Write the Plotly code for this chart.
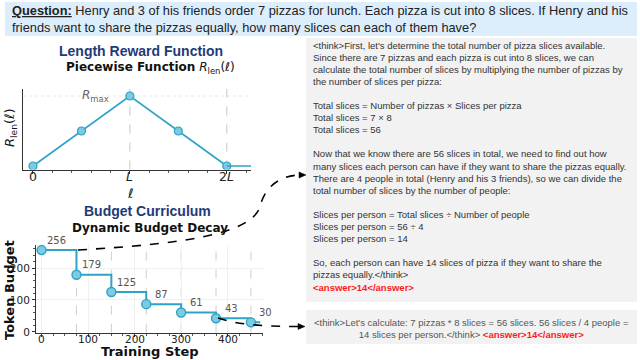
import plotly.graph_objects as go

W, H = 640, 360

# ---------------- data ----------------
ell = [0, 0.5, 1.0, 1.5, 2.0]
r_len = [0, 0.5, 1.0, 0.5, 0]
ell_tail = [2.0, 2.25]
r_tail = [0, 0]
len_tickvals = [0, 1, 2]
len_ticktext = ["0", "<i>L</i>", "2<i>L</i>"]

steps = [0, 75, 150, 225, 300, 375, 450]
budgets = [256, 179, 125, 87, 61, 43, 30]
step_end = 470
step_ticks = [0, 100, 200, 300, 400]
budget_ticks = [0, 100, 200]

question = ("<b><u>Question:</u></b> Henry and 3 of his friends order 7 pizzas for lunch. Each pizza is cut into 8 slices. If Henry and his<br>"
            "friends want to share the pizzas equally, how many slices can each of them have?")

long_lines = [
    "&lt;think&gt;First, let's determine the total number of pizza slices available.",
    "Since there are 7 pizzas and each pizza is cut into 8 slices, we can",
    "calculate the total number of slices by multiplying the number of pizzas by",
    "the number of slices per pizza:",
    "",
    "Total slices = Number of pizzas × Slices per pizza",
    "Total slices = 7 × 8",
    "Total slices = 56",
    "",
    "Now that we know there are 56 slices in total, we need to find out how",
    "many slices each person can have if they want to share the pizzas equally.",
    "There are 4 people in total (Henry and his 3 friends), so we can divide the",
    "total number of slices by the number of people:",
    "",
    "Slices per person = Total slices ÷ Number of people",
    "Slices per person = 56 ÷ 4",
    "Slices per person = 14",
    "",
    "So, each person can have 14 slices of pizza if they want to share the",
    "pizzas equally.&lt;/think&gt;",
    "<b><span style='color:#ff1a1a'>&lt;answer&gt;14&lt;/answer&gt;</span></b>",
]
short_text = ("&lt;think&gt;Let's calculate: 7 pizzas * 8 slices = 56 slices. 56 slices / 4 people =<br>"
              "14 slices per person.&lt;/think&gt; <b><span style='color:#ff1a1a'>&lt;answer&gt;14&lt;/answer&gt;</span></b>")

LINE = "#2ea3c9"
MFILL = "#7ccbe0"
NAVY = "#1f3a7a"


def px(x):
    return x / W


def py(y):
    return 1 - y / H


fig = go.Figure()

# top chart
fig.add_trace(go.Scatter(x=ell, y=r_len, mode="lines+markers", xaxis="x", yaxis="y",
                         line=dict(color=LINE, width=1.6),
                         marker=dict(size=8, color=MFILL, line=dict(color=LINE, width=1.2)),
                         showlegend=False, hoverinfo="skip"))
fig.add_trace(go.Scatter(x=ell_tail, y=r_tail, mode="lines", xaxis="x", yaxis="y",
                         line=dict(color=LINE, width=1.6), showlegend=False, hoverinfo="skip"))

# bottom chart
fig.add_trace(go.Scatter(x=steps + [step_end], y=budgets + [budgets[-1]], mode="lines",
                         line_shape="hv", xaxis="x2", yaxis="y2",
                         line=dict(color=LINE, width=2), showlegend=False, hoverinfo="skip"))
fig.add_trace(go.Scatter(x=steps, y=budgets, mode="markers", xaxis="x2", yaxis="y2",
                         marker=dict(size=9, color=MFILL, line=dict(color=LINE, width=1.4)),
                         showlegend=False, hoverinfo="skip"))

axis_common = dict(showline=True, linecolor="#333", linewidth=1, automargin=False,
                   tickcolor="#333", zeroline=False, mirror=False)
minor_common = dict(ticks="outside", ticklen=2, tickcolor="#555", showgrid=False)

fig.update_layout(
    width=W, height=H, autosize=False,
    margin=dict(l=0, r=0, t=0, b=0, pad=0),
    paper_bgcolor="white", plot_bgcolor="white",
    xaxis=dict(domain=[23.3 / W, 251 / W], range=[-0.1, 2.25], anchor="y", ticks="outside", ticklen=3,
               showticklabels=False,
               tickmode="array", tickvals=len_tickvals,
               showgrid=False,
               minor=dict(tickmode="linear", tick0=0, dtick=0.2, **minor_common),
               **axis_common),
    yaxis=dict(domain=[py(169.5), py(89)], range=[-0.05, 1.1], anchor="x", ticks="",
               showticklabels=False, showgrid=False, **axis_common),
    xaxis2=dict(domain=[36 / W, 263 / W], range=[-12, 476], anchor="y2", ticks="outside", ticklen=3,
                showticklabels=False,
                tickmode="array", tickvals=step_ticks, showgrid=True, gridcolor="#f0f0f0",
                minor=dict(tickmode="linear", tick0=0, dtick=25, **minor_common),
                **axis_common),
    yaxis2=dict(domain=[py(332.6), py(245)], range=[-2, 272], anchor="x2", ticks="outside", ticklen=3,
                tickfont=dict(family="DejaVu Sans", size=10.5, color="#222"),
                tickmode="array", tickvals=budget_ticks, showgrid=True, gridcolor="#f0f0f0",
                minor=dict(tickmode="linear", tick0=0, dtick=20, **minor_common),
                **axis_common),
)

shapes = []
# question box
shapes.append(dict(type="rect", xref="paper", yref="paper", x0=px(5), x1=px(637), y0=py(36), y1=py(2),
                   fillcolor="#dcedfc", line=dict(width=0), layer="below"))
# long answer box
shapes.append(dict(type="rect", xref="paper", yref="paper", x0=px(306), x1=px(637), y0=py(302), y1=py(38),
                   fillcolor="#f2f2f2", line=dict(width=0), layer="below"))
# short answer box
shapes.append(dict(type="rect", xref="paper", yref="paper", x0=px(306), x1=px(637), y0=py(344), y1=py(310),
                   fillcolor="#f2f2f2", line=dict(width=0), layer="below"))

# top chart guide lines
for v in [1, 2]:
    shapes.append(dict(type="line", xref="x", yref="y domain", x0=v, x1=v, y0=0, y1=1,
                       line=dict(color="#c8c8c8", width=1, dash="dash"), layer="below"))
shapes.append(dict(type="line", xref="x domain", yref="y", x0=0, x1=1, y0=1, y1=1,
                   line=dict(color="#e6e6e6", width=1, dash="dot"), layer="below"))
# bottom chart step guides
for s in steps[1:]:
    shapes.append(dict(type="line", xref="x2", yref="y2 domain", x0=s, x1=s, y0=0, y1=1,
                       line=dict(color="#cfcfcf", width=1, dash="dash"), layer="below"))


def P(x, y):
    return f"{px(x):.5f},{py(y):.5f}"


# dashed connector arrows
path1 = (f"M {P(78, 250)} C {P(180, 244)} {P(250, 235)} {P(260, 207)} "
         f"C {P(263, 192)} {P(275, 176)} {P(299, 175)}")
shapes.append(dict(type="path", xref="paper", yref="paper", path=path1,
                   line=dict(color="black", width=1.6, dash="dash")))
shapes.append(dict(type="path", xref="paper", yref="paper",
                   path=f"M {P(306, 175)} L {P(299, 172)} L {P(299, 178)} Z",
                   fillcolor="black", line=dict(color="black", width=0.5)))
path2 = f"M {P(218, 318)} C {P(235, 324)} {P(260, 326.5)} {P(298, 326.5)}"
shapes.append(dict(type="path", xref="paper", yref="paper", path=path2,
                   line=dict(color="black", width=1.6, dash="dash")))
shapes.append(dict(type="path", xref="paper", yref="paper",
                   path=f"M {P(305, 326.5)} L {P(298, 323.5)} L {P(298, 329.5)} Z",
                   fillcolor="black", line=dict(color="black", width=0.5)))

fig.update_layout(shapes=shapes)

ann = []
SANS = "Liberation Sans"


def A(x, y, text, font, xanchor="center", **kw):
    d = dict(xref="paper", yref="paper", x=px(x), y=py(y), xanchor=xanchor, yanchor="middle",
             showarrow=False, text=text, font=font)
    d.update(kw)
    ann.append(d)


A(10, 18.5, question, dict(family=SANS, size=12.8, color="#222"), xanchor="left", align="left")

y0, dy = 45, 12.1
for i, t in enumerate(long_lines):
    if not t:
        continue
    A(311, y0 + i * dy, t, dict(family=SANS, size=9.5, color="#333"), xanchor="left", align="left")

A(471.5, 328, short_text, dict(family=SANS, size=9.5, color="#555"), align="center")

# chart titles
A(141, 51, "<b>Length Reward Function</b>", dict(family=SANS, size=14, color=NAVY))
A(150, 68, "<b>Piecewise Function</b> <i>R</i><sub>len</sub>(<i>ℓ</i>)",
  dict(family="DejaVu Sans", size=12, color="#111"))
A(147, 211, "<b>Budget Curriculum</b>", dict(family=SANS, size=14, color=NAVY))
A(150, 228, "<b>Dynamic Budget Decay</b>", dict(family="DejaVu Sans", size=12, color="#111"))

# x tick labels placed on the axes' own data scale
for v, t in zip(len_tickvals, len_ticktext):
    ann.append(dict(xref="x", yref="paper", x=v, y=py(176.5), xanchor="center", yanchor="middle",
                    showarrow=False, text=t, font=dict(family="DejaVu Sans", size=12.5, color="#222")))
for v in step_ticks:
    ann.append(dict(xref="x2", yref="paper", x=v, y=py(339), xanchor="center", yanchor="middle",
                    showarrow=False, text=str(v), font=dict(family="DejaVu Sans", size=10.5, color="#222")))

# axis titles
A(130, 193, "<i>ℓ</i>", dict(family="DejaVu Sans", size=13, color="#111"))
A(10, 128, "<i>R</i><sub>len</sub>(<i>ℓ</i>)", dict(family="DejaVu Sans", size=13, color="#111"), textangle=-90)
A(9, 290, "<b>Token Budget</b>", dict(family="DejaVu Sans", size=13, color="#111"), textangle=-90)
A(150, 351.5, "<b>Training Step</b>", dict(family="DejaVu Sans", size=13, color="#111"))

# R_max label
ann.append(dict(xref="x", yref="y", x=0.64, y=1.0, xanchor="center", yanchor="middle", showarrow=False,
                text="<i>R</i><sub>max</sub>", font=dict(family="DejaVu Sans", size=12, color="#666")))

# step value labels
for s, b in zip(steps, budgets):
    ann.append(dict(xref="x2", yref="y2", x=s, y=b, xshift=15, yshift=10, xanchor="center",
                    yanchor="middle", showarrow=False,
                    text=str(b), font=dict(family="DejaVu Sans", size=10, color="#555")))

fig.update_layout(annotations=ann)

fig.write_html("out.html", config={"displayModeBar": False},
               post_script="document.body.style.margin='0px';document.body.style.overflow='hidden';")
